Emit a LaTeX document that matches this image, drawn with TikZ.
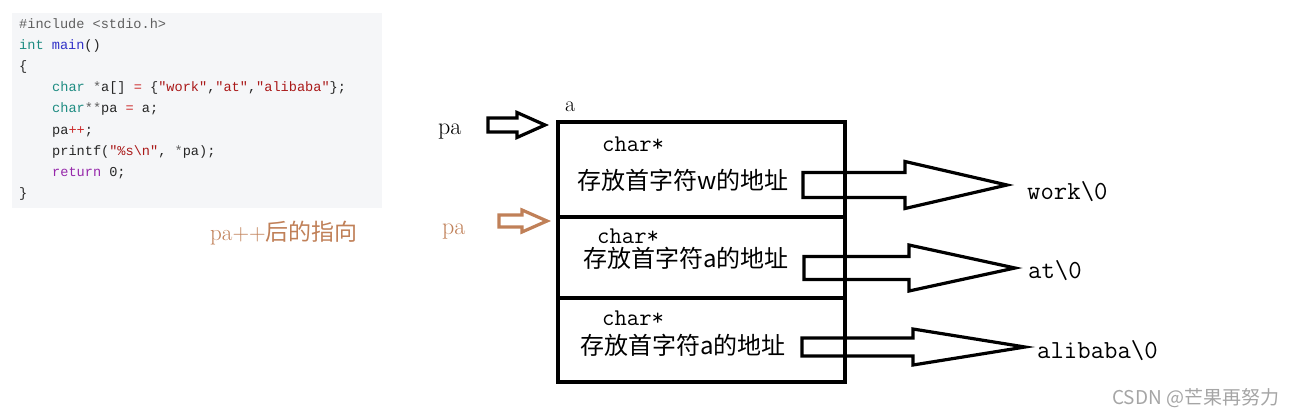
\documentclass[tikz,border=0pt]{standalone}
\usepackage{fontspec}
\usetikzlibrary{calc,positioning}
\newfontfamily\cjk{Noto Sans CJK SC}
\newfontfamily\codefont{Liberation Mono}
\definecolor{codebg}{RGB}{245,246,248}
\definecolor{codegray}{RGB}{95,95,95}
\definecolor{kw}{RGB}{30,140,130}
\definecolor{fn}{RGB}{50,50,200}
\definecolor{ret}{RGB}{150,40,170}
\definecolor{str}{RGB}{170,25,25}
\definecolor{op}{RGB}{205,45,45}
\definecolor{brown}{RGB}{192,128,88}
\definecolor{mark}{RGB}{165,165,165}

%% hollow block arrow: [style]{from}{to}{shaft half}{head half}{head length}
\newcommand{\blockarrow}[6][]{%
  \draw[line width=3.2pt,#1] let \p1=(#2), \p2=(#3) in
    (\x1,\y1+#4) -- (\x2-#6,\y1+#4) -- (\x2-#6,\y1+#5) -- (\x2,\y1)
    -- (\x2-#6,\y1-#5) -- (\x2-#6,\y1-#4) -- (\x1,\y1-#4) -- cycle;}

\tikzset{
  cell/.style={draw, line width=3.2pt, minimum width=287pt, outer sep=0pt, inner sep=0pt},
  code/.style={anchor=base west, inner sep=0pt, font=\codefont\fontsize{13.6}{15}\selectfont, text=black!85},
  ptr/.style={anchor=base west, inner sep=0pt, font=\ttfamily\fontsize{24}{24}\selectfont},
  addr/.style={anchor=west, inner sep=0pt, font=\cjk\fontsize{24}{24}\selectfont},
  str0/.style={anchor=base west, inner sep=0pt, font=\ttfamily\fontsize{26}{26}\selectfont},
}

\begin{document}
\begin{tikzpicture}[x=1pt,y=-1pt]
    \useasboundingbox (0,0) rectangle (1297,417);

    %% the code
    \fill[codebg] (12,13) rectangle (382,208);
    \node[code] (l1) at (19,29) {\textcolor{codegray}{\#include <stdio.h>}};
    \node[code] (l2) at (19,50) {\textcolor{kw}{int} \textcolor{fn}{main}()};
    \node[code] (l3) at (19,71) {\{};
    \node[code] (l4) at (52,92) {\textcolor{kw}{char} \textcolor{codegray}{*}a[] \textcolor{op}{=} \{\textcolor{str}{"work"},\textcolor{str}{"at"},\textcolor{str}{"alibaba"}\};};
    \node[code] (l5) at (52,113) {\textcolor{kw}{char}\textcolor{codegray}{**}pa \textcolor{op}{=} a;};
    \node[code] (l6) at (52,134) {pa\textcolor{op}{++};};
    \node[code] (l7) at (52,155) {printf(\textcolor{str}{"\%s\textbackslash n"}, \textcolor{codegray}{*}pa);};
    \node[code] (l8) at (52,176) {\textcolor{ret}{return} 0;};
    \node[code] (l9) at (19,197) {\}};

    \node[anchor=base west, inner sep=0pt, text=brown, font=\fontsize{23}{23}\selectfont] (after) at (210,240) {pa++{\cjk 后的指向}};

    %% the array a
    \node[cell, minimum height=95pt, anchor=north west] (c1) at (558,122) {};
    \node[cell, minimum height=81pt, below=0pt of c1] (c2) {};
    \node[cell, minimum height=84pt, below=0pt of c2] (c3) {};
    \node[anchor=base west, inner sep=0pt, font=\fontsize{22}{22}\selectfont] (aname) at (565,111) {a};

    \node[ptr] (ty1) at (602,151) {char*};
    \node[addr] (ad1) at (577,180) {存放首字符w的地址};
    \node[ptr] (ty2) at (597,243) {char*};
    \node[addr] (ad2) at (583,258) {存放首字符a的地址};
    \node[ptr] (ty3) at (602,325) {char*};
    \node[addr] (ad3) at (580,345) {存放首字符a的地址};

    %% pa before and after pa++
    \node[anchor=base west, inner sep=0pt, font=\fontsize{24}{24}\selectfont] (pa1) at (438,134) {pa};
    \coordinate (pa1s) at (488,125);
    \coordinate (pa1e) at (545,125);
    \blockarrow{pa1s}{pa1e}{7pt}{12.5pt}{28pt}

    \node[anchor=base west, inner sep=0pt, text=brown, font=\fontsize{24}{24}\selectfont] (pa2) at (442,234) {pa};
    \coordinate (pa2s) at (499,221);
    \coordinate (pa2e) at (547,221);
    \blockarrow[brown]{pa2s}{pa2e}{6pt}{11pt}{25pt}

    %% the strings
    \node[str0] (s1) at (1027,199) {work\textbackslash0};
    \node[str0] (s2) at (1028,278) {at\textbackslash0};
    \node[str0] (s3) at (1037,358) {alibaba\textbackslash0};

    \coordinate (p1) at (803,185);
    \coordinate (t1) at (1007,185);
    \coordinate (p2) at (804,268);
    \coordinate (t2) at (1015,268);
    \coordinate (p3) at (802,347);
    \coordinate (t3) at (1025,347);
    \blockarrow{p1}{t1}{12.5pt}{23.5pt}{102pt}
    \blockarrow{p2}{t2}{11.5pt}{23pt}{106pt}
    \blockarrow{p3}{t3}{9pt}{18pt}{112pt}

    \node[anchor=base west, inner sep=0pt, text=mark, font=\cjk\fontsize{19}{19}\selectfont] (csdn) at (1112,404) {CSDN @芒果再努力};

\end{tikzpicture}
\end{document}
